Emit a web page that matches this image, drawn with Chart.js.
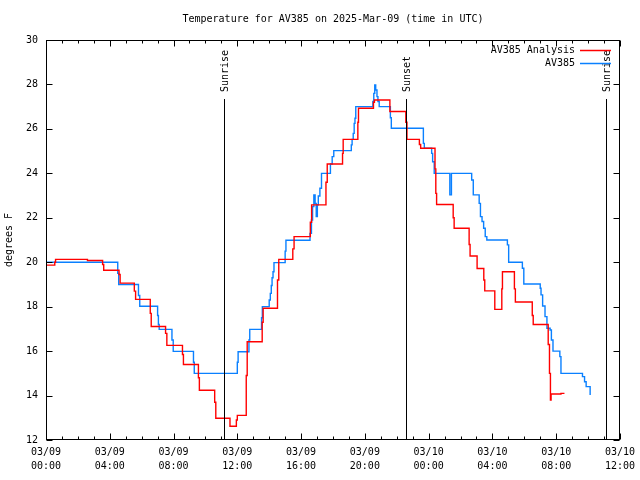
<!DOCTYPE html>
<html>
<head>
<meta charset="utf-8">
<script src="https://cdn.jsdelivr.net/npm/chart.js@4.4.1/dist/chart.umd.min.js"></script>
<style>
  html, body { margin: 0; background: #fff; }
</style>
</head>
<body>
<canvas id="c" width="640" height="480"></canvas>
<script>
// ── Data (x = hours since 03/09 00:00 UTC) ─────────────────────────────
const analysisHours = [0, 0.55, 0.6, 2.6, 3.55, 3.62, 4.58, 4.65, 5.54, 5.62, 6.54, 6.6, 7.5, 7.58,
  8.56, 8.62, 9.56, 9.62, 10.58, 10.65, 11.54, 11.94, 12.0, 12.56, 12.62, 13.56, 13.62, 14.52, 14.6,
  15.48, 15.56, 16.58, 16.66, 17.56, 17.64, 18.6, 18.64, 19.56, 19.6, 20.54, 20.6, 21.57, 22.57, 22.64,
  23.42, 23.5, 24.4, 24.45, 24.5, 25.54, 25.6, 26.54, 26.6, 27.04, 27.46, 27.52, 28.15, 28.59, 28.63,
  29.38, 29.44, 30.5, 30.56, 31.5, 31.58, 31.64, 31.68, 32.3, 32.52];
const analysisTemps = [19.87, 20.0, 20.13, 20.08, 19.9, 19.64, 19.45, 19.06, 18.7, 18.33, 17.7, 17.11, 16.8, 16.26,
  15.85, 15.4, 14.8, 14.24, 13.7, 12.98, 12.62, 12.9, 13.11, 14.9, 16.42, 17.3, 17.93, 19.2, 20.13,
  20.6, 21.15, 21.8, 22.58, 23.6, 24.42, 24.9, 25.53, 26.3, 26.93, 27.2, 27.3, 26.78, 26.3, 25.53,
  25.3, 25.13, 24.2, 23.1, 22.6, 22.0, 21.53, 20.8, 20.28, 19.72, 19.2, 18.71, 17.88, 18.8, 19.57,
  18.8, 18.21, 17.6, 17.2, 16.3, 15.0, 13.8, 14.07, 14.1, 14.1];

const obsHours = [0, 4.5, 4.56, 5.8, 5.88, 7.0, 7.05, 7.1, 7.9, 7.98, 9.25, 9.3, 12.0, 12.05, 12.73, 12.78,
  13.52, 13.57, 14.0, 14.07, 14.13, 14.18, 14.24, 14.3, 15.0, 15.05, 16.56, 16.65, 16.72, 16.8, 16.88,
  16.95, 17.02, 17.08, 17.18, 17.28, 17.84, 17.95, 18.05, 19.15, 19.2, 19.27, 19.33, 19.38, 19.43,
  20.5, 20.56, 20.62, 20.68, 20.76, 20.82, 20.9, 21.6, 21.66, 23.67, 23.73, 24.19, 24.25, 24.35,
  25.33, 25.43, 26.7, 26.8, 27.17, 27.25, 27.35, 27.45, 27.55, 27.65, 28.94, 29.02, 29.88, 29.97,
  31.0, 31.05, 31.15, 31.3, 31.42, 31.62, 31.7, 31.8, 32.23, 32.3, 33.65, 33.78, 33.88, 34.13];
const obsTemps = [20.0, 19.5, 19.0, 18.5, 18.02, 17.6, 17.2, 16.98, 16.5, 15.99, 15.5, 15.0, 15.5, 15.97, 16.5, 16.98,
  17.5, 18.0, 18.3, 18.6, 18.95, 19.3, 19.57, 19.98, 20.5, 20.99, 21.3, 21.9, 22.5, 23.03, 22.65,
  22.05, 22.58, 22.98, 23.33, 24.0, 24.42, 24.75, 25.02, 25.28, 25.53, 25.8, 26.25, 26.48, 27.0,
  27.23, 27.6, 27.98, 27.75, 27.45, 27.23, 27.0, 26.5, 26.03, 25.35, 25.13, 24.9, 24.52, 24.0,
  23.03, 24.0, 23.7, 23.03, 22.65, 22.05, 21.83, 21.53, 21.15, 21.0, 20.78, 20.0, 19.73, 19.02,
  18.83, 18.53, 18.03, 17.55, 17.03, 16.95, 16.5, 16.0, 15.75, 15.0, 14.85, 14.62, 14.4, 14.03];

const sunHours  = [11.19, 22.57, 35.13];
const sunLabels = ['Sunrise', 'Sunset', 'Sunrise'];

const xTickLabels = [
  ['03/09', '00:00'], ['03/09', '04:00'], ['03/09', '08:00'], ['03/09', '12:00'], ['03/09', '16:00'],
  ['03/09', '20:00'], ['03/10', '00:00'], ['03/10', '04:00'], ['03/10', '08:00'], ['03/10', '12:00'],
];

// ── Styling ─────────────────────────────────────────────────────────────
const MONO = 'DejaVu Sans Mono';
const font = (extra = {}) => ({ family: MONO, size: 10, weight: 'normal', ...extra });

const toPoints = (xs, ys) => xs.map((h, i) => ({ x: h, y: ys[i] }));

// frame with inward ticks, sun event lines, legend
const overlay = {
  id: 'overlay',
  afterDatasetsDraw(chart) {
    const { ctx, chartArea: a, scales: { x, y } } = chart;
    const L = Math.round(a.left) + 0.5, R = Math.round(a.right) - 0.5;
    const T = Math.round(a.top) + 0.5,  B = Math.round(a.bottom) - 0.5;
    ctx.save();
    ctx.strokeStyle = '#000';
    ctx.lineWidth = 1;

    // x ticks, every hour, longer every 4 h
    ctx.beginPath();
    for (let h = x.min; h <= x.max; h++) {
      const px = Math.round(x.getPixelForValue(h)) + 0.5;
      const len = h % 4 === 0 ? 6 : 3;
      ctx.moveTo(px, B); ctx.lineTo(px, B - len);
      ctx.moveTo(px, T); ctx.lineTo(px, T + len);
    }
    // y ticks, left and right
    y.ticks.forEach(t => {
      const py = Math.round(y.getPixelForValue(t.value)) + 0.5;
      ctx.moveTo(L, py); ctx.lineTo(L + 6, py);
      ctx.moveTo(R, py); ctx.lineTo(R - 6, py);
    });
    ctx.stroke();
    ctx.strokeRect(L, T, R - L, B - T);

    // sunrise / sunset markers
    ctx.fillStyle = '#000';
    ctx.font = `10px "${MONO}"`;
    sunHours.forEach((h, i) => {
      const px = Math.round(x.getPixelForValue(h)) + 0.5;
      ctx.beginPath();
      ctx.moveTo(px, 99); ctx.lineTo(px, B);
      ctx.stroke();
      ctx.save();
      ctx.translate(px + 0.5, 92);
      ctx.rotate(-Math.PI / 2);
      ctx.textAlign = 'left';
      ctx.textBaseline = 'middle';
      ctx.fillText(sunLabels[i], 0, 0);
      ctx.restore();
    });

    // legend (text right-aligned, sample line to the right)
    ctx.textAlign = 'right';
    ctx.textBaseline = 'middle';
    chart.data.datasets.forEach((ds, i) => {
      const ly = 50 + i * 13;
      ctx.fillStyle = '#000';
      ctx.fillText(ds.label, 575, ly);
      ctx.strokeStyle = ds.borderColor;
      ctx.lineWidth = 1.5;
      ctx.beginPath();
      ctx.moveTo(580, ly + 0.5); ctx.lineTo(611, ly + 0.5);
      ctx.stroke();
    });
    ctx.restore();
  }
};

new Chart(document.getElementById('c'), {
  type: 'line',
  data: {
    datasets: [
      {
        label: 'AV385 Analysis',
        data: toPoints(analysisHours, analysisTemps),
        borderColor: '#ff0000',
        borderWidth: 1.4,
        stepped: true,
        pointRadius: 0,
        fill: false,
      },
      {
        label: 'AV385',
        data: toPoints(obsHours, obsTemps),
        borderColor: '#0a80ff',
        borderWidth: 1.4,
        stepped: true,
        pointRadius: 0,
        fill: false,
      },
    ]
  },
  options: {
    responsive: false,
    devicePixelRatio: 1,
    animation: false,
    layout: { padding: { left: 0, right: 18, top: 0, bottom: 0 } },
    plugins: {
      legend: { display: false },
      tooltip: { enabled: false },
      title: {
        display: true,
        text: 'Temperature for AV385 on 2025-Mar-09 (time in UTC)',
        color: '#000',
        font: font(),
        fullSize: false,
        padding: { top: 13, bottom: 15 },
      },
    },
    scales: {
      x: {
        type: 'linear',
        min: 0,
        max: 36,
        grid: { display: false, drawTicks: false },
        border: { display: false },
        ticks: {
          stepSize: 4,
          autoSkip: false,
          maxRotation: 0,
          padding: 5,
          color: '#000',
          font: font({ lineHeight: 1.45 }),
          callback: v => xTickLabels[v / 4],
        },
        afterFit: s => { s.height = 40; },
      },
      y: {
        min: 12,
        max: 30,
        grid: { display: false, drawTicks: false },
        border: { display: false },
        ticks: { stepSize: 2, padding: 8, color: '#000', font: font() },
        title: { display: true, text: 'degrees F', color: '#000', font: font(), padding: { top: 3, bottom: 0 } },
        afterFit: s => { s.width = 46; },
      },
    },
  },
  plugins: [overlay],
});
</script>
</body>
</html>
